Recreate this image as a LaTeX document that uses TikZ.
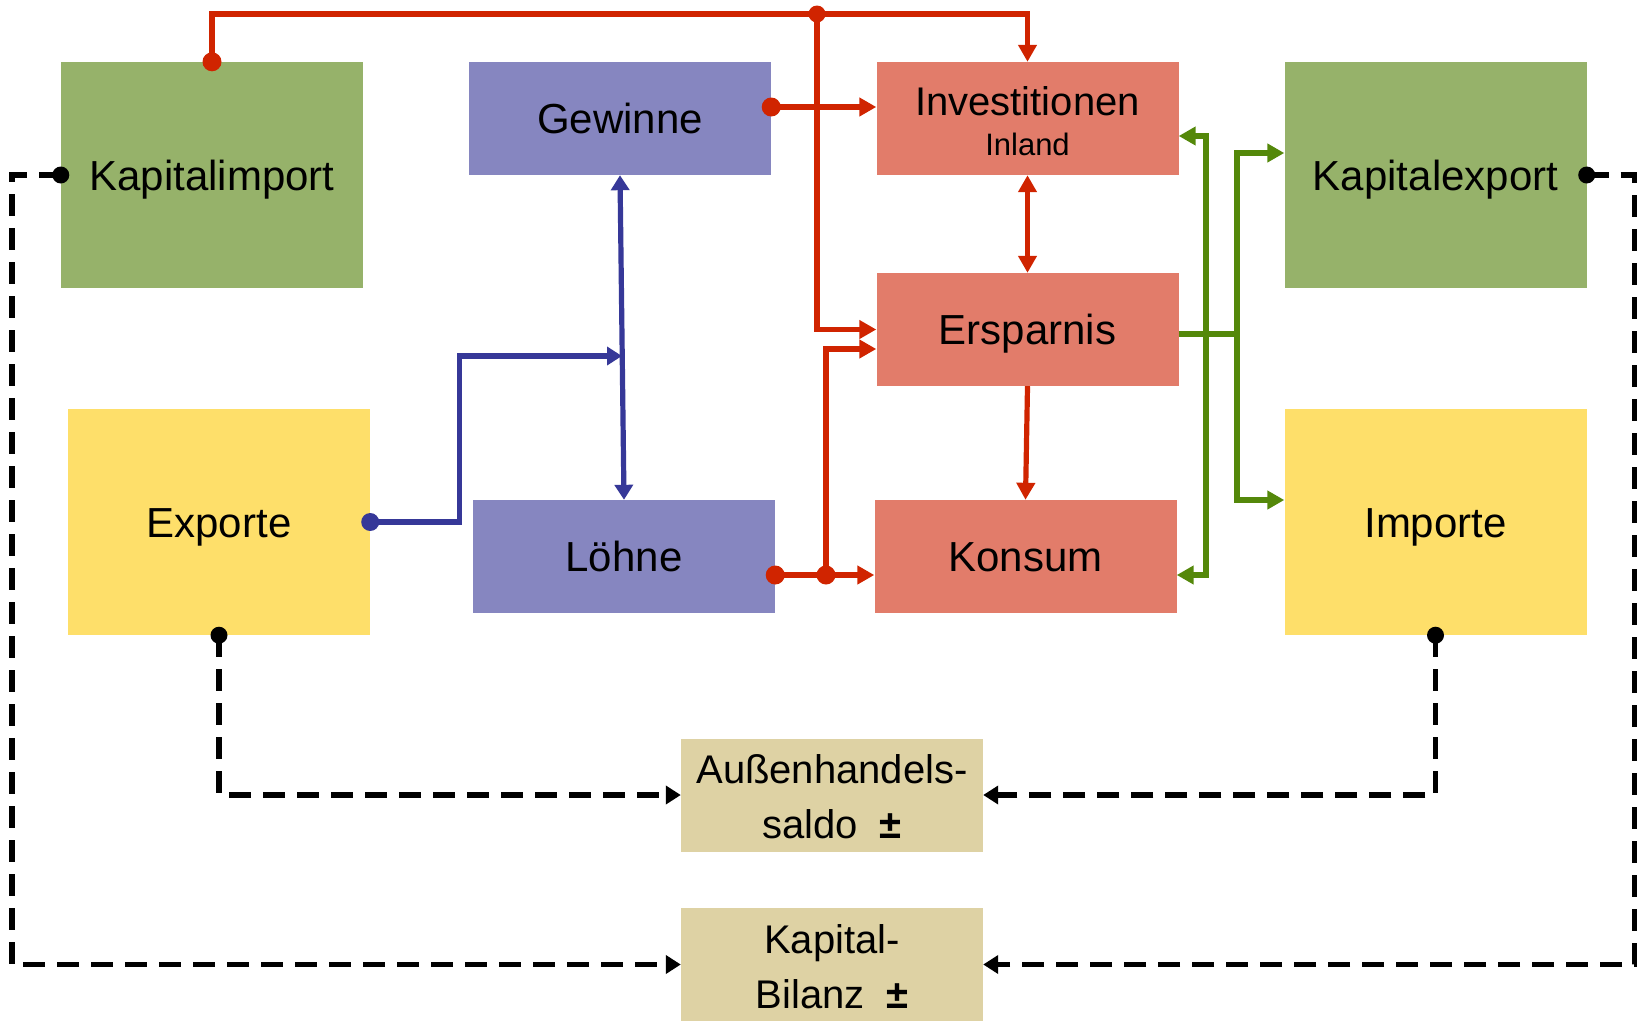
\documentclass[tikz,border=0pt]{standalone}
\usepackage{fontspec}
\setmainfont{Liberation Sans}
\usetikzlibrary{arrows.meta,calc}
\definecolor{cgreenbox}{RGB}{150,178,106}
\definecolor{cpurple}{RGB}{134,134,192}
\definecolor{csalmon}{RGB}{226,124,106}
\definecolor{cyellow}{RGB}{254,223,106}
\definecolor{ctan}{RGB}{222,210,164}
\definecolor{lred}{RGB}{208,36,0}
\definecolor{lblue}{RGB}{54,56,152}
\definecolor{lgreen}{RGB}{84,136,10}
\newcommand{\twolines}[6]{%
  \raisebox{0pt}[#5][#6]{\vtop{\baselineskip=#3\relax
    \hbox{\makebox[0pt]{#1}}\hbox{\makebox[0pt]{#2}}}}}
\tikzset{
  box/.style={fill=#1, inner sep=0pt, minimum width=302pt, minimum height=113pt,
    font=\fontsize{42}{48}\selectfont, align=center, text height=30pt, text depth=0pt},
  tallbox/.style={box=#1, minimum height=226pt},
  multibox/.style={fill=#1, inner sep=0pt, minimum width=302pt, minimum height=113pt},
  redln/.style={draw=lred, line width=5.2pt},
  blueln/.style={draw=lblue, line width=5.2pt},
  greenln/.style={draw=lgreen, line width=5.2pt},
  blackln/.style={draw=black, line width=5.5pt, dash pattern=on 22pt off 12pt},
  tipr/.style={-{Triangle[length=17pt,width=18pt]}},
  tiprr/.style={{Triangle[length=17pt,width=18pt]}-{Triangle[length=17pt,width=18pt]}},
  tipb/.style={-{Triangle[length=15pt,width=18pt]}},
  tipbb/.style={{Triangle[length=15pt,width=18pt]}-{Triangle[length=15pt,width=18pt]}},
  tipk/.style={-{Triangle[length=15pt,width=18pt]}},
}
\begin{document}
\begin{tikzpicture}[x=1pt,y=-1pt]
\useasboundingbox (0,0) rectangle (1640,1020);
% boxes
\node[tallbox=cgreenbox] (kimp) at (212,175) {Kapitalimport};
\node[box=cpurple] (gew) at (620,118.5) {Gewinne};
\node[multibox=csalmon] (inv) at (1027.5,118.5)
  {\twolines{\fontsize{40}{40}\selectfont Investitionen}{\fontsize{31}{31}\selectfont Inland}{40pt}{}{30pt}{37pt}};
\node[tallbox=cgreenbox] (kexp) at (1435.5,175) {Kapitalexport};
\node[box=csalmon] (ers) at (1027.5,329.5) {Ersparnis};
\node[tallbox=cyellow] (exp) at (219,522) {Exporte};
\node[box=cpurple] (loh) at (624,556.5) {Löhne};
\node[box=csalmon] (kon) at (1025.5,556.5) {Konsum};
\node[tallbox=cyellow] (imp) at (1435.5,522) {Importe};
\node[multibox=ctan, font=\fontsize{40}{40}\selectfont] (ahs) at (832,795)
  {\twolines{Außenhandels-}{saldo\hspace{0.55em}\textbf{±}}{55pt}{}{30pt}{54pt}};
\node[multibox=ctan, font=\fontsize{40}{40}\selectfont] (kb) at (832,964.5)
  {\twolines{Kapital-}{Bilanz\hspace{0.55em}\textbf{±}}{55pt}{}{30pt}{53pt}};
% coordinates
\coordinate (top) at (0,14);
\coordinate (rj) at (817,14);
\coordinate (lj) at (826,575);
\coordinate (bj) at (622,356);
\coordinate (g1) at (1206,334);
\coordinate (g2) at (1237,334);
% red connectors
\draw[redln,tipr] (kimp.north) -- (kimp.north |- top) -- (inv.north |- top) -- (inv.north);
\draw[redln,tipr] (rj) |- (ers.west);
\draw[redln,tipr] ([yshift=11.5pt]gew.east) -- ([yshift=11.5pt]inv.west);
\draw[redln,tipr] ([yshift=-18.5pt]loh.east) -- ([yshift=-18.5pt]kon.west);
\draw[redln,tipr] (lj) |- ([yshift=-19.5pt]ers.west);
\draw[redln,tipr] (ers.south) -- (kon.north);
\draw[redln,tiprr] (inv.south) -- (ers.north);
\fill[lred] (kimp.north) circle[radius=9.5pt];
\fill[lred] (rj) circle[radius=8.5pt];
\fill[lred] ([yshift=11.5pt]gew.east) circle[radius=9.5pt];
\fill[lred] ([yshift=-18.5pt]loh.east) circle[radius=9.5pt];
\fill[lred] (lj) circle[radius=9.5pt];
% blue connectors
\draw[blueln,tipbb] (gew.south) -- (loh.north);
\draw[blueln,tipb] (exp.east) -- ++(89,0) |- (bj);
\fill[lblue] (exp.east) circle[radius=9pt];
% green connectors
\draw[greenln] ([yshift=-4.5pt]ers.east) -- (g2);
\draw[greenln,tipr] (g2) |- ([yshift=22pt]kexp.west);
\draw[greenln,tipr] (g2) |- ([yshift=22pt]imp.west);
\draw[greenln,tipr] (g1) |- ([yshift=-17.5pt]inv.east);
\draw[greenln,tipr] (g1) |- ([yshift=-18.5pt]kon.east);
% black dashed connectors
\draw[blackln,tipk] (kimp.west) -- ++(-49,0) |- (kb.west);
\draw[blackln,tipk] (kexp.east) -- ++(48,0) |- (kb.east);
\draw[blackln,tipk] (exp.south) |- (ahs.west);
\draw[blackln,tipk] (imp.south) |- (ahs.east);
\fill (kimp.west) circle[radius=8.5pt];
\fill (kexp.east) circle[radius=8.5pt];
\fill (exp.south) circle[radius=8.5pt];
\fill (imp.south) circle[radius=8.5pt];
\end{tikzpicture}
\end{document}
